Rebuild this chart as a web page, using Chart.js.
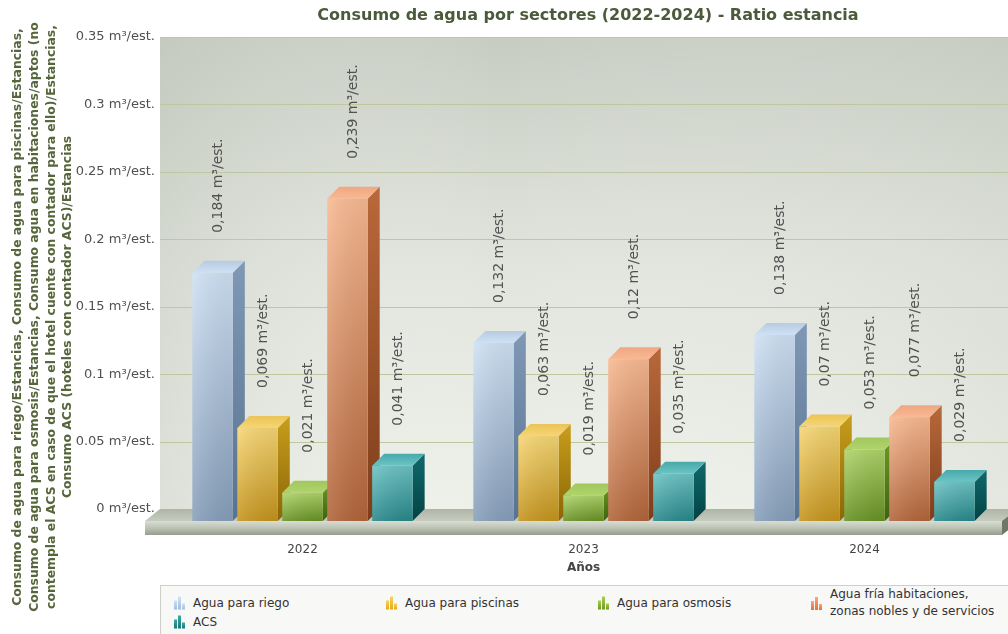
<!DOCTYPE html>
<html>
<head>
<meta charset="utf-8">
<script src="https://cdn.jsdelivr.net/npm/chart.js@4"></script>
<style>
  html, body { margin: 0; padding: 0; background: #fff; }
  #wrap { position: relative; width: 1008px; height: 634px; overflow: hidden; font-family: "DejaVu Sans", Verdana, sans-serif; }
  #chart { position: absolute; left: 0; top: 0; }
  #legend { position: absolute; left: 160px; top: 585px; width: 870px; height: 60px; border: 1px solid #cdd0c8; background: #f8f8f6; }
  .item { position: absolute; display: flex; align-items: center; transform: translateY(-50%); font-size: 12px; color: #333; line-height: 17px; }
  .icon { display: flex; align-items: flex-end; height: 13px; margin-right: 7px; }
  .icon span { display: block; width: 3px; margin-right: 1px; }
</style>
</head>
<body>
<div id="wrap">
  <canvas id="chart" width="1008" height="634"></canvas>
  <div id="legend"></div>
</div>
<script>
const categories = ['2022', '2023', '2024'];
const seriesNames = [
  ['Agua para riego'],
  ['Agua para piscinas'],
  ['Agua para osmosis'],
  ['Agua fría habitaciones,', 'zonas nobles y de servicios'],
  ['ACS']
];
const aguaRiego = [0.184, 0.132, 0.138];
const aguaPiscinas = [0.069, 0.063, 0.07];
const aguaOsmosis = [0.021, 0.019, 0.053];
const aguaFria = [0.239, 0.12, 0.077];
const aguaACS = [0.041, 0.035, 0.029];
const yTickLabels = ['0 m³/est.', '0.05 m³/est.', '0.1 m³/est.', '0.15 m³/est.', '0.2 m³/est.', '0.25 m³/est.', '0.3 m³/est.', '0.35 m³/est.'];
const unit = ' m³/est.';
const chartTitle = 'Consumo de agua por sectores (2022-2024) - Ratio estancia';
const xTitle = 'Años';
const yTitle = [
  'Consumo de agua para riego/Estancias, Consumo de agua para piscinas/Estancias,',
  'Consumo de agua para osmosis/Estancias, Consumo agua en habitaciones/aptos (no',
  'contempla el ACS en caso de que el hotel cuente con contador para ello)/Estancias,',
  'Consumo ACS (hoteles con contador ACS)/Estancias'
];

// colours for the fake 3d boxes
const palette = [
  { front: ['#cfe1f4', '#869eba'], side: ['#7f98b5', '#587391'], top: '#b7cbe1', icon: ['#cfe3f7', '#9fbddc'] },
  { front: ['#f6d674', '#c4931b'], side: ['#c89e1c', '#8a6606'], top: '#eac457', icon: ['#f8d260', '#e8a818'] },
  { front: ['#b0d46a', '#679123'], side: ['#6f9b25', '#3d620e'], top: '#a0c75e', icon: ['#a8d050', '#6c9a20'] },
  { front: ['#f9b992', '#b16439'], side: ['#b9693b', '#7e3d1a'], top: '#eea783', icon: ['#f9a878', '#e2703a'] },
  { front: ['#6cc3c4', '#27878a'], side: ['#10696b', '#044244'], top: '#47a9ab', icon: ['#40a8a8', '#107878'] }
];
const DX = 12, DY = 12;

Chart.defaults.font.family = '"DejaVu Sans", Verdana, sans-serif';
Chart.defaults.color = '#444';

const scene3d = {
  id: 'scene3d',
  beforeDatasetsDraw(chart) {
    const { ctx, chartArea: a, scales: { y } } = chart;
    const w = chart.width;
    const base = y.getPixelForValue(0);
    ctx.save();
    // back wall
    let g = ctx.createLinearGradient(0, a.top, 0, base);
    g.addColorStop(0, '#c7cdc2');
    g.addColorStop(0.5, '#e2e5de');
    g.addColorStop(1, '#eef0ea');
    ctx.fillStyle = g;
    ctx.fillRect(160, a.top, w - 160, base - a.top);
    g = ctx.createLinearGradient(160, 0, w, 0);
    g.addColorStop(0, 'rgba(190,196,184,0.35)');
    g.addColorStop(0.4, 'rgba(255,255,255,0)');
    g.addColorStop(1, 'rgba(200,205,195,0.25)');
    ctx.fillStyle = g;
    ctx.fillRect(160, a.top, w - 160, base - a.top);
    // grid lines
    ctx.strokeStyle = '#bec7a0';
    ctx.lineWidth = 1;
    y.ticks.forEach(t => {
      const py = Math.round(y.getPixelForValue(t.value)) + 0.5;
      if (t.value === 0) return;
      ctx.beginPath();
      ctx.moveTo(160, py);
      ctx.lineTo(w, py);
      ctx.stroke();
    });
    // floor
    const fl = 145, fr = a.right - 3, fdx = 15, fdy = 12, fh = 14;
    g = ctx.createLinearGradient(0, base, 0, base + fdy);
    g.addColorStop(0, '#adb5a5');
    g.addColorStop(1, '#c6ccbf');
    ctx.fillStyle = g;
    ctx.beginPath();
    ctx.moveTo(fl + fdx, base);
    ctx.lineTo(fr + fdx, base);
    ctx.lineTo(fr, base + fdy);
    ctx.lineTo(fl, base + fdy);
    ctx.closePath();
    ctx.fill();
    g = ctx.createLinearGradient(0, base + fdy, 0, base + fdy + fh);
    g.addColorStop(0, '#d9ddd3');
    g.addColorStop(0.5, '#bcc3b5');
    g.addColorStop(1, '#959d8b');
    ctx.fillStyle = g;
    ctx.fillRect(fl, base + fdy, fr - fl, fh);
    ctx.fillStyle = '#6f7767';
    ctx.beginPath();
    ctx.moveTo(fr, base + fdy);
    ctx.lineTo(fr + fdx, base);
    ctx.lineTo(fr + fdx, base + fh);
    ctx.lineTo(fr, base + fdy + fh);
    ctx.closePath();
    ctx.fill();
    ctx.restore();
  },
  afterDatasetsDraw(chart) {
    const ctx = chart.ctx;
    const n = chart.data.datasets.length;
    ctx.save();
    categories.forEach((c, i) => {
      for (let d = 0; d < n; d++) {
        const bar = chart.getDatasetMeta(d).data[i];
        const { x, y, base, width } = bar.getProps(['x', 'y', 'base', 'width'], true);
        const x0 = x - width / 2, x1 = x + width / 2;
        const yt = y + DY, yb = base + DY;
        const p = palette[d];
        // side
        let g = ctx.createLinearGradient(0, yt - DY, 0, yb);
        g.addColorStop(0, p.side[0]);
        g.addColorStop(1, p.side[1]);
        ctx.fillStyle = g;
        ctx.beginPath();
        ctx.moveTo(x1, yt);
        ctx.lineTo(x1 + DX, yt - DY);
        ctx.lineTo(x1 + DX, yb - DY);
        ctx.lineTo(x1, yb);
        ctx.closePath();
        ctx.fill();
        // top
        g = ctx.createLinearGradient(0, yt - DY, 0, yt);
        g.addColorStop(0, p.top);
        g.addColorStop(1, p.front[0]);
        ctx.fillStyle = g;
        ctx.beginPath();
        ctx.moveTo(x0, yt);
        ctx.lineTo(x0 + DX, yt - DY);
        ctx.lineTo(x1 + DX, yt - DY);
        ctx.lineTo(x1, yt);
        ctx.closePath();
        ctx.fill();
        // front
        g = ctx.createLinearGradient(0, yt, 0, yb);
        g.addColorStop(0, p.front[0]);
        g.addColorStop(1, p.front[1]);
        ctx.fillStyle = g;
        ctx.fillRect(x0, yt, width, yb - yt);
        g = ctx.createLinearGradient(x0, 0, x1, 0);
        g.addColorStop(0, 'rgba(255,255,255,0.12)');
        g.addColorStop(1, 'rgba(0,0,0,0.06)');
        ctx.fillStyle = g;
        ctx.fillRect(x0, yt, width, yb - yt);
      }
    });
    // value labels
    ctx.fillStyle = '#525252';
    ctx.font = '14px "DejaVu Sans", Verdana, sans-serif';
    ctx.textAlign = 'left';
    ctx.textBaseline = 'middle';
    for (let d = 0; d < n; d++) {
      const ds = chart.data.datasets[d];
      chart.getDatasetMeta(d).data.forEach((bar, i) => {
        const { x, y } = bar.getProps(['x', 'y'], true);
        ctx.save();
        ctx.translate(x + 6, y - 28);
        ctx.rotate(-Math.PI / 2);
        ctx.fillText(String(ds.data[i]).replace('.', ',') + unit, 0, 0);
        ctx.restore();
      });
    }
    ctx.restore();
  },
  afterDraw(chart) {
    const ctx = chart.ctx;
    ctx.save();
    ctx.fillStyle = '#4b5a3a';
    ctx.textAlign = 'center';
    ctx.textBaseline = 'middle';
    ctx.font = 'bold 16px "DejaVu Sans", Verdana, sans-serif';
    ctx.fillText(chartTitle, 588, 16);
    ctx.fillStyle = '#56663c';
    ctx.font = 'bold 12.4px "DejaVu Sans", Verdana, sans-serif';
    yTitle.forEach((line, k) => {
      ctx.save();
      ctx.translate(18 + k * 16.7, 317);
      ctx.rotate(-Math.PI / 2);
      ctx.fillText(line, 0, 0);
      ctx.restore();
    });
    ctx.restore();
  }
};

const seriesData = [aguaRiego, aguaPiscinas, aguaOsmosis, aguaFria, aguaACS];

new Chart(document.getElementById('chart'), {
  type: 'bar',
  data: {
    labels: categories,
    datasets: seriesData.map((vals, i) => ({
      label: seriesNames[i].join(' '),
      data: vals,
      backgroundColor: 'rgba(0,0,0,0)',
      borderWidth: 0,
      categoryPercentage: 0.8,
      barPercentage: 0.9
    }))
  },
  options: {
    responsive: false,
    animation: false,
    events: [],
    layout: { padding: { top: 37, right: 3, bottom: 49, left: 0 } },
    plugins: { legend: { display: false }, tooltip: { enabled: false }, title: { display: false } },
    scales: {
      x: {
        grid: { display: false, drawTicks: false },
        border: { display: false },
        ticks: { padding: 34, color: '#444', font: { size: 12 } },
        title: { display: true, text: xTitle, color: '#444', font: { size: 12, weight: 'bold' }, padding: { top: 0, bottom: 10 } },
        afterFit(scale) { scale.height = 76; }
      },
      y: {
        min: 0,
        max: 0.35,
        grid: { display: false, drawTicks: false },
        border: { display: false },
        ticks: {
          stepSize: 0.05,
          padding: 7,
          color: '#505050',
          font: { size: 13 },
          callback: (v, i) => yTickLabels[i]
        },
        afterFit(scale) { scale.width = 162; }
      }
    }
  },
  plugins: [scene3d]
});

// html legend
const legendPos = [[13, 17], [225, 17], [437, 17], [650, 17], [13, 36]];
const legendBox = document.getElementById('legend');
seriesNames.forEach((lines, i) => {
  const item = document.createElement('div');
  item.className = 'item';
  item.style.left = legendPos[i][0] + 'px';
  item.style.top = legendPos[i][1] + 'px';
  const icon = document.createElement('div');
  icon.className = 'icon';
  [9, 13, 6].forEach(h => {
    const s = document.createElement('span');
    s.style.height = h + 'px';
    s.style.background = `linear-gradient(${palette[i].icon[0]}, ${palette[i].icon[1]})`;
    icon.appendChild(s);
  });
  item.appendChild(icon);
  const txt = document.createElement('div');
  txt.innerHTML = lines.join('<br>');
  item.appendChild(txt);
  legendBox.appendChild(item);
});
</script>
</body>
</html>
